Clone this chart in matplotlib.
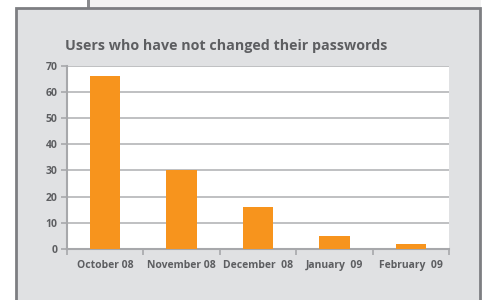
import matplotlib
matplotlib.use("Agg")
import matplotlib.pyplot as plt
from matplotlib.patches import Rectangle

categories = ["October 08", "November 08", "December  08", "January  09", "February  09"]
values = [66, 30, 16, 5, 2]
yticks = [0, 10, 20, 30, 40, 50, 60, 70]
title = "Users who have not changed their passwords"

W, H = 484, 300
fig = plt.figure(figsize=(W / 100, H / 100), dpi=100)
fig.patch.set_facecolor("white")

def px_rect(x0, y0, x1, y1, **kw):
    # pixel coords from top-left
    r = Rectangle((x0 / W, 1 - y1 / H), (x1 - x0) / W, (y1 - y0) / H,
                  transform=fig.transFigure, zorder=-10, **kw)
    fig.patches.append(r)

text_col = "#5d5e61"
border = "#7d7e82"
# top-right background sheet
px_rect(89, -5, 481, 10, facecolor="#f2f2f2", edgecolor="none")
px_rect(87, -5, 89.5, 10, facecolor="#8a8b8e", edgecolor="none")
# panel
px_rect(16, 8, 480, 305, facecolor="#e0e1e3", edgecolor=border, linewidth=2)

ax = fig.add_axes([67 / W, 1 - 249 / H, 382 / W, (249 - 65.5) / H])
ax.set_zorder(5)
ax.set_facecolor("white")
x = list(range(len(categories)))
ax.bar(x, values, width=0.4, color="#f7941d", zorder=3)
ax.set_xlim(-0.5, len(categories) - 0.5)
ax.set_ylim(0, 70)
ax.set_yticks(yticks)
ax.set_yticklabels([str(v) for v in yticks])
ax.grid(axis="y", color="#b4b5b8", linewidth=1.2, zorder=1)
ax.set_axisbelow(True)
for s in ["top", "right"]:
    ax.spines[s].set_visible(False)
for s in ["left", "bottom"]:
    ax.spines[s].set_color("#a7a8ab")
    ax.spines[s].set_linewidth(1.5)
ax.set_xticks([i - 0.5 for i in range(len(categories) + 1)])
ax.set_xticklabels([])
ax.set_xticks(x, minor=True)
ax.set_xticklabels(categories, minor=True)
ax.tick_params(axis="x", which="major", length=4, width=1.2, color="#a7a8ab")
ax.tick_params(axis="x", which="minor", length=0, pad=8)
ax.tick_params(axis="y", length=4, width=1.2, color="#a7a8ab", pad=3)
for lab in ax.get_xticklabels(minor=True) + ax.get_yticklabels():
    lab.set_fontsize(7.5)
    lab.set_fontweight("bold")
    lab.set_color(text_col)
    lab.set_family("Open Sans")

fig.text(65 / W, 1 - 46 / H, title, fontsize=10.3, fontweight="bold",
         color=text_col, family="Open Sans", va="center", ha="left")

fig.savefig("out.png", dpi=100)
